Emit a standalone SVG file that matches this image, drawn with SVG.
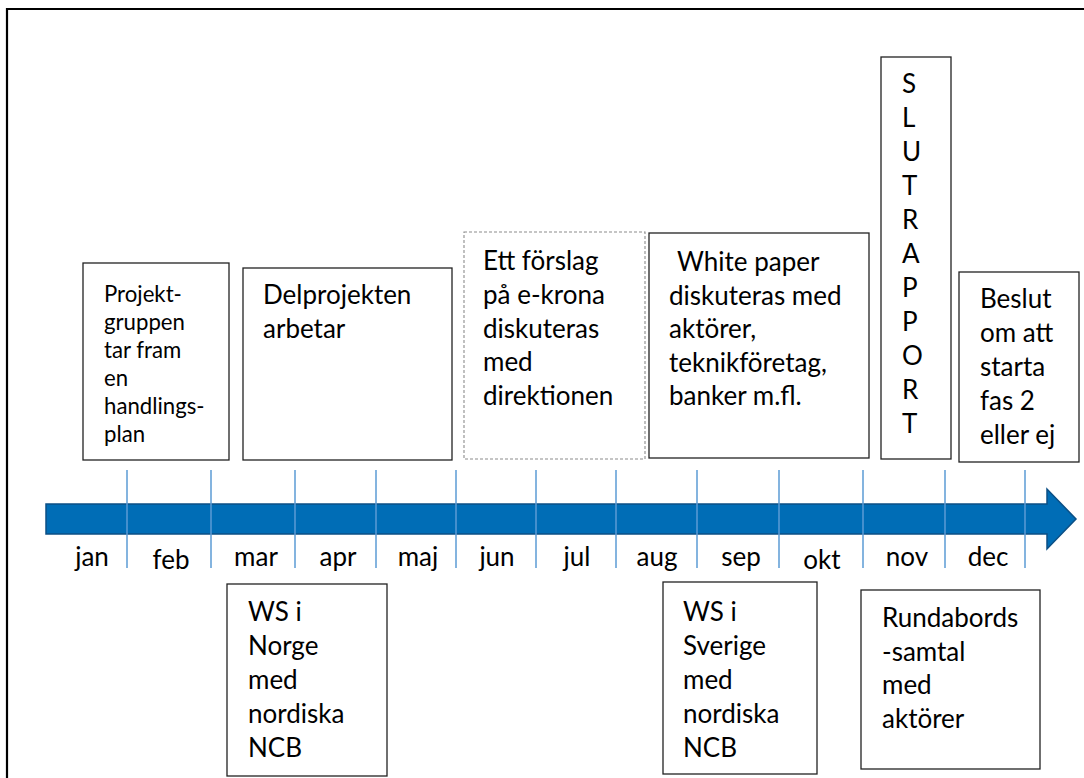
<svg xmlns="http://www.w3.org/2000/svg" width="1084" height="778" viewBox="0 0 1084 778">
<style>
.box{fill:#fff;stroke:#222;stroke-width:1.3}
.dash{fill:#fff;stroke:#8c8c8c;stroke-width:1.1;stroke-dasharray:3 2}
.t{font-family:Lato,"Liberation Sans",sans-serif;font-size:26px;fill:#000}
.s{font-family:Lato,"Liberation Sans",sans-serif;font-size:22.2px;fill:#000}
.m{font-family:Lato,"Liberation Sans",sans-serif;font-size:26px;fill:#000;text-anchor:middle}
.tick{stroke:#5b9bd5;stroke-width:1.5}
</style>
<rect width="1084" height="778" fill="#fff"/>
<g id="frame">
<path d="M7 778 V9 H1084" fill="none" stroke="#000" stroke-width="2.2"/>
</g>
<g id="connectors">
<polygon id="timeline" points="46,504 1047,504 1047,489 1076,519 1047,549 1047,534 46,534" fill="#006db6" stroke="#0b4f85" stroke-width="1.5"/>
<g id="ticks">
<line class="tick" x1="127" y1="470" x2="127" y2="568"/>
<line class="tick" x1="211" y1="470" x2="211" y2="568"/>
<line class="tick" x1="295" y1="470" x2="295" y2="568"/>
<line class="tick" x1="376" y1="470" x2="376" y2="568"/>
<line class="tick" x1="456" y1="470" x2="456" y2="568"/>
<line class="tick" x1="536" y1="470" x2="536" y2="568"/>
<line class="tick" x1="616" y1="470" x2="616" y2="568"/>
<line class="tick" x1="697" y1="470" x2="697" y2="568"/>
<line class="tick" x1="779" y1="470" x2="779" y2="568"/>
<line class="tick" x1="863" y1="470" x2="863" y2="568"/>
<line class="tick" x1="945" y1="470" x2="945" y2="568"/>
<line class="tick" x1="1025" y1="470" x2="1025" y2="568"/>
</g>
</g>
<g id="months">
<text class="m" x="92" y="566">jan</text>
<text class="m" x="171" y="569">feb</text>
<text class="m" x="256" y="566">mar</text>
<text class="m" x="338" y="566">apr</text>
<text class="m" x="418" y="566">maj</text>
<text class="m" x="497" y="566">jun</text>
<text class="m" x="577" y="566">jul</text>
<text class="m" x="657" y="566">aug</text>
<text class="m" x="741" y="566">sep</text>
<text class="m" x="822" y="569">okt</text>
<text class="m" x="907" y="566">nov</text>
<text class="m" x="988" y="566">dec</text>
</g>
<g id="projektgruppen">
<rect class="box" x="83" y="263" width="146" height="197"/>
<text class="s" x="104" y="302">Projekt-</text>
<text class="s" x="104" y="330">gruppen</text>
<text class="s" x="104" y="358">tar fram</text>
<text class="s" x="104" y="386">en</text>
<text class="s" x="104" y="414">handlings-</text>
<text class="s" x="104" y="442">plan</text>
</g>
<g id="delprojekten">
<rect class="box" x="243" y="268" width="209" height="192"/>
<text class="t" x="263" y="304">Delprojekten</text>
<text class="t" x="263" y="338">arbetar</text>
</g>
<g id="forslag">
<rect class="dash" x="464" y="232" width="181" height="227"/>
<text class="t" x="483" y="270">Ett förslag</text>
<text class="t" x="483" y="304">på e-krona</text>
<text class="t" x="483" y="338">diskuteras</text>
<text class="t" x="483" y="371">med</text>
<text class="t" x="483" y="405">direktionen</text>
</g>
<g id="whitepaper">
<rect class="box" x="649" y="233" width="220" height="225"/>
<text class="t" x="677" y="271">White paper</text>
<text class="t" x="669" y="305">diskuteras med</text>
<text class="t" x="669" y="338">aktörer,</text>
<text class="t" x="669" y="372">teknikföretag,</text>
<text class="t" x="669" y="405">banker m.fl.</text>
</g>
<g id="slutrapport">
<rect class="box" x="881" y="57" width="70" height="402"/>
<text class="t" x="902" y="93">S</text>
<text class="t" x="902" y="127">L</text>
<text class="t" x="902" y="161">U</text>
<text class="t" x="902" y="195">T</text>
<text class="t" x="902" y="229">R</text>
<text class="t" x="902" y="263">A</text>
<text class="t" x="902" y="297">P</text>
<text class="t" x="902" y="331">P</text>
<text class="t" x="902" y="365">O</text>
<text class="t" x="902" y="399">R</text>
<text class="t" x="902" y="433">T</text>
</g>
<g id="beslut">
<rect class="box" x="959" y="272" width="120" height="190"/>
<text class="t" x="980" y="308">Beslut</text>
<text class="t" x="980" y="342">om att</text>
<text class="t" x="980" y="376">starta</text>
<text class="t" x="980" y="410">fas 2</text>
<text class="t" x="980" y="444">eller ej</text>
</g>
<g id="ws-norge">
<rect class="box" x="227" y="584" width="160" height="192"/>
<text class="t" x="248" y="621">WS i</text>
<text class="t" x="248" y="655">Norge</text>
<text class="t" x="248" y="689">med</text>
<text class="t" x="248" y="723">nordiska</text>
<text class="t" x="248" y="757">NCB</text>
</g>
<g id="ws-sverige">
<rect class="box" x="663" y="582" width="154" height="192"/>
<text class="t" x="683" y="621">WS i</text>
<text class="t" x="683" y="655">Sverige</text>
<text class="t" x="683" y="689">med</text>
<text class="t" x="683" y="723">nordiska</text>
<text class="t" x="683" y="757">NCB</text>
</g>
<g id="rundabords">
<rect class="box" x="861" y="590" width="179" height="179"/>
<text class="t" x="882" y="627">Rundabords</text>
<text class="t" x="882" y="661">-samtal</text>
<text class="t" x="882" y="694">med</text>
<text class="t" x="882" y="728">aktörer</text>
</g>
</svg>
